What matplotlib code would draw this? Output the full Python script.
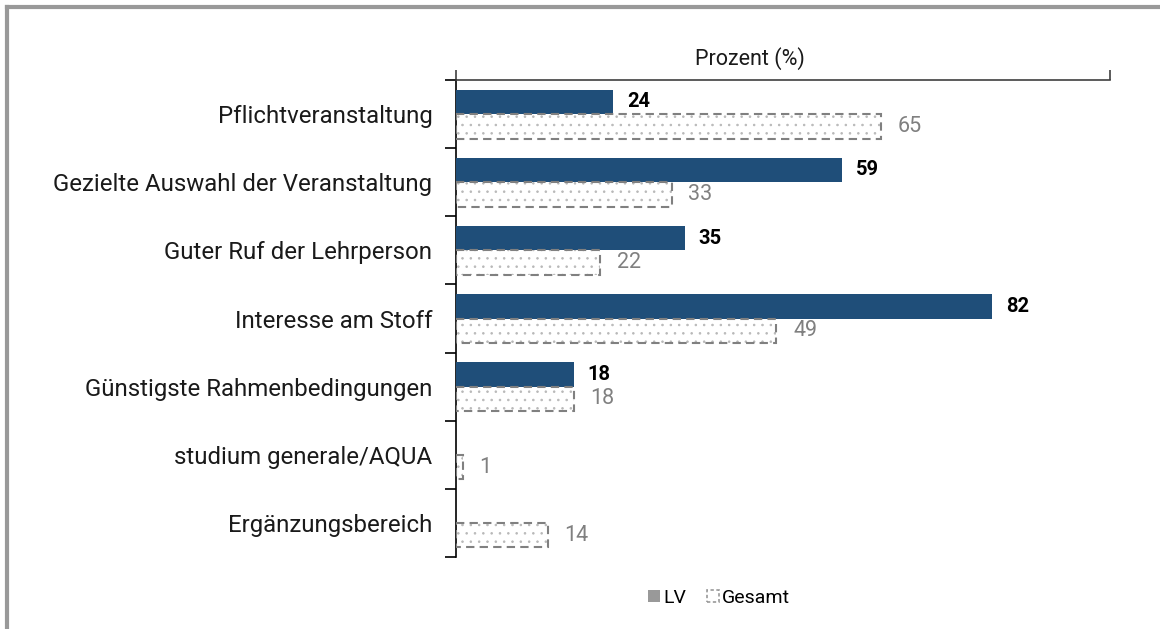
import matplotlib
matplotlib.use('Agg')
import matplotlib.pyplot as plt
from matplotlib.patches import Patch
from matplotlib.lines import Line2D
import numpy as np

plt.rcParams['font.family'] = ['Roboto', 'DejaVu Sans']

categories = [
    'Pflichtveranstaltung',
    'Gezielte Auswahl der Veranstaltung',
    'Guter Ruf der Lehrperson',
    'Interesse am Stoff',
    'Günstigste Rahmenbedingungen',
    'studium generale/AQUA',
    'Ergänzungsbereich',
]
lv = [24, 59, 35, 82, 18, None, None]
gesamt = [65, 33, 22, 49, 18, 1, 14]

blue = '#1f4e79'
grey = '#808080'

fig = plt.figure(figsize=(11.6, 6.29), dpi=100)
ax = fig.add_axes([456 / 1160, 1 - 557 / 629, 654 / 1160, 477 / 629])

y = np.arange(len(categories))
h = 0.36

for i, v in enumerate(lv):
    if v is None:
        continue
    ax.barh(y[i] - h / 2, v, height=h, color=blue, zorder=3)
    ax.annotate(str(v), (v, y[i] - h / 2), xytext=(10, 0), textcoords='offset points',
                ha='left', va='center', fontsize=14.5, fontweight='bold', color='black',
                family=['Liberation Sans Narrow', 'Roboto'])

plt.rcParams['hatch.linewidth'] = 0.6
for i, v in enumerate(gesamt):
    # dotted fill, then dashed outline on top
    ax.barh(y[i] + h / 2, v, height=h, color='white', edgecolor='#b8b8b8',
            hatch='..', linewidth=0, zorder=2)
    ax.barh(y[i] + h / 2, v, height=h, fill=False, edgecolor=grey,
            linestyle=(0, (4, 2.5)), linewidth=1.5, zorder=3)
    ax.annotate(str(v), (v, y[i] + h / 2), xytext=(12, 0), textcoords='offset points',
                ha='left', va='center', fontsize=15.5, color=grey)

ax.set_xlim(0, 100)
ax.set_ylim(len(categories) - 0.5, -0.5)

ax.set_yticks(y)
ax.set_yticklabels(categories, fontsize=17.3, color='#1a1a1a')
ax.tick_params(axis='y', which='major', length=0, pad=17)
ax.set_yticks(np.arange(len(categories) + 1) - 0.5, minor=True)
ax.tick_params(axis='y', which='minor', length=8, width=1.2, direction='out')

ax.xaxis.tick_top()
ax.set_xticks([0, 100])
ax.set_xticklabels([])
ax.tick_params(axis='x', length=7, width=1.2, color='#404040', direction='out')
ax.annotate('Prozent (%)', (0.45, 1.0), xycoords='axes fraction', xytext=(0, 11),
            textcoords='offset points', ha='center', va='baseline', fontsize=15.5,
            color='#1a1a1a')

ax.spines['right'].set_visible(False)
ax.spines['bottom'].set_visible(False)
ax.spines['top'].set_color('#404040')
ax.spines['top'].set_linewidth(1.2)
ax.spines['left'].set_linewidth(1.2)

handles = [
    Patch(facecolor='#999999', edgecolor='none'),
    Patch(facecolor='white', edgecolor='#999999', linestyle=(0, (2, 1.5)), linewidth=1.2),
]
fig.legend(handles, ['LV', 'Gesamt'], loc='center', bbox_to_anchor=(0.62, 1 - 598 / 629),
           ncol=2, frameon=False, prop={'size': 14},
           handlelength=0.6, handleheight=0.6, handletextpad=0.15, columnspacing=1.1)

# outer frame: top and left edges only
fig.add_artist(Line2D([7 / 1160, 1], [1 - 7 / 629] * 2, color='#999999', lw=3,
                      transform=fig.transFigure))
fig.add_artist(Line2D([7 / 1160] * 2, [0, 1 - 7 / 629], color='#999999', lw=3,
                      transform=fig.transFigure))

fig.savefig('out.png', dpi=100)
